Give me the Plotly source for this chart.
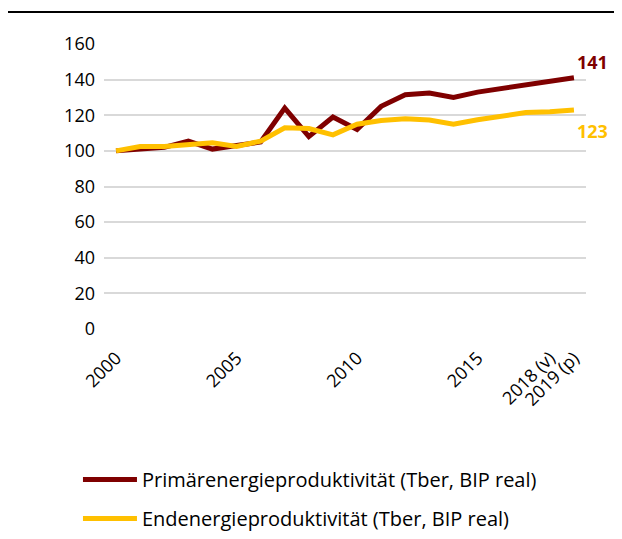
import plotly.graph_objects as go

years = [str(y) for y in range(2000, 2018)] + ["2018 (v)", "2019 (p)"]
tick_vals = ["2000", "2005", "2010", "2015", "2018 (v)", "2019 (p)"]

primaer = [100, 101, 102, 105.5, 101, 103, 105, 124, 108, 119, 112,
           125, 131.5, 132.5, 130, 133, 135, 137.5, 139, 141]
end = [100, 102.5, 102.5, 103.5, 104.5, 102.5, 105.5, 113, 112.5, 109, 115,
       117, 118, 117.3, 115, 117.5, 119.5, 121.5, 122, 123]

RED = "#7F0000"
YEL = "#FFC000"
FONT = "Open Sans"

fig = go.Figure()
fig.add_trace(go.Scatter(x=years, y=primaer, mode="lines", legendgroup="a",
                         name="Primärenergieproduktivität (Tber, BIP real)",
                         line=dict(color=RED, width=5)))
fig.add_trace(go.Scatter(x=years, y=end, mode="lines", legendgroup="b",
                         name="Endenergieproduktivität (Tber, BIP real)",
                         line=dict(color=YEL, width=5)))

# end labels
fig.add_annotation(x=years[-1], y=primaer[-1], text="<b>141</b>", showarrow=False,
                   xshift=19, yshift=16, font=dict(size=18, color=RED, family=FONT))
fig.add_annotation(x=years[-1], y=end[-1], text="<b>123</b>", showarrow=False,
                   xshift=19, yshift=-21, font=dict(size=18, color=YEL, family=FONT))

# top rule
fig.add_shape(type="line", xref="paper", yref="paper",
              x0=-0.201, x1=1.08, y0=1.112, y1=1.112,
              line=dict(color="black", width=2))

# page body has an 8px margin, so the figure is 8px smaller each way
fig.update_layout(
    width=614, height=531,
    margin=dict(l=96, r=36, t=36, b=210, autoexpand=False),
    paper_bgcolor="white", plot_bgcolor="white",
    font=dict(family=FONT, size=18, color="black"),
    showlegend=True,
    legend=dict(orientation="v", x=-0.054, y=-0.46, xanchor="left", yanchor="top",
                font=dict(size=20), itemwidth=54, tracegroupgap=10),
)
fig.update_xaxes(type="category", tickvals=tick_vals, ticktext=tick_vals,
                 range=[-0.5, 19.5], automargin=False, ticklabelstandoff=14,
                 tickangle=-45, showgrid=False, showline=False, ticks="")
fig.update_yaxes(range=[0, 160], dtick=20, showgrid=True, gridcolor="#D9D9D9",
                 gridwidth=1.5, zeroline=False, showline=False, ticks="",
                 automargin=False, ticklabelstandoff=8)

fig.write_html("out.html")
